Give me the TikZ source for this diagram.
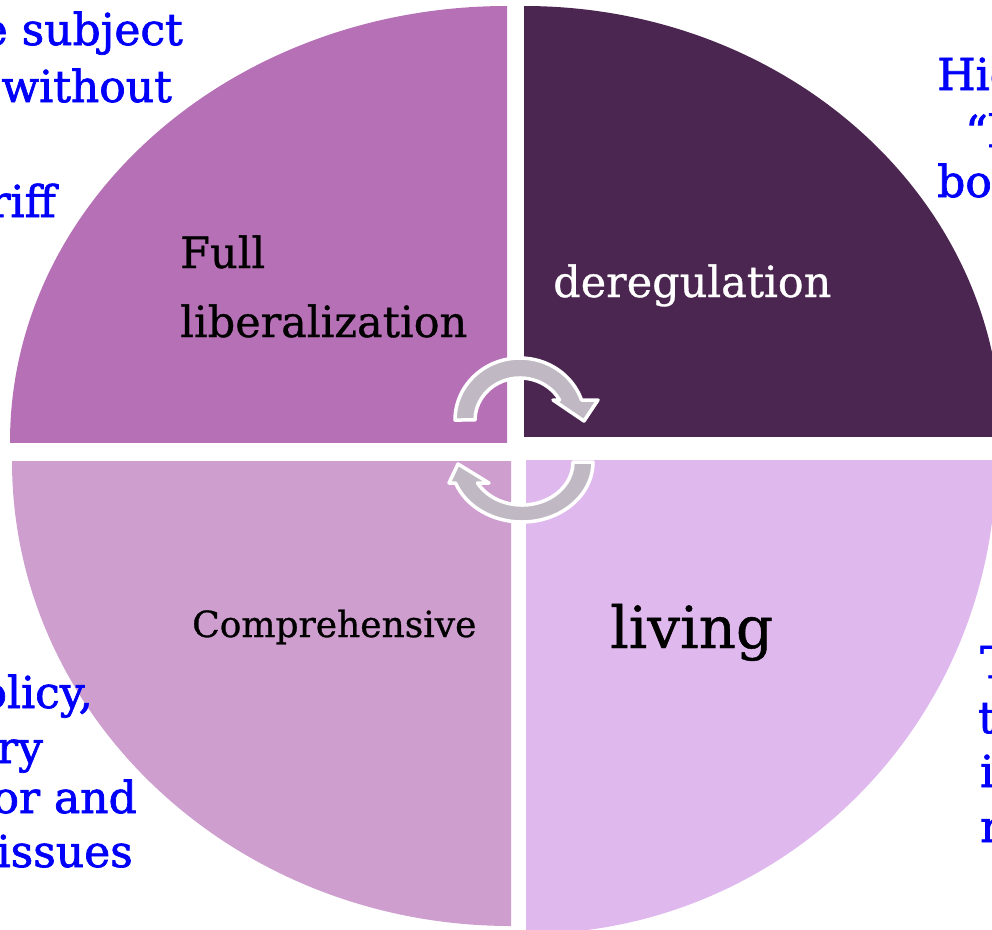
\documentclass[tikz,border=0pt]{standalone}
\usepackage{fontspec}
\setmainfont{DejaVu Serif}[FakeBold=0.8]
\newfontfamily\bluefont{DejaVu Serif}[FakeBold=1.6]
\definecolor{qtl}{RGB}{182,112,182}
\definecolor{qtr}{RGB}{75,38,80}
\definecolor{qbl}{RGB}{206,158,206}
\definecolor{qbr}{RGB}{223,184,238}
\definecolor{agrey}{RGB}{192,185,195}
\definecolor{tblue}{RGB}{0,0,250}
\tikzset{
  bluetxt/.style={text=tblue, inner sep=0pt, font=\bluefont\fontsize{44}{50}\selectfont},
  quadtxt/.style={inner sep=0pt, anchor=base west, font=\fontsize{43}{50}\selectfont},
  cyclearrow/.style={fill=agrey, draw=white, line width=3.5pt, line join=round}
}
\begin{document}
\begin{tikzpicture}[x=1pt,y=-1pt]
\useasboundingbox (0,0) rectangle (992,929);
\clip (0,0) rectangle (992,929);
% quadrants
\begin{scope}\clip (0,0) rectangle (507,442);
  \fill[qtl] (507,442) ellipse[x radius=497,y radius=436];\end{scope}
\begin{scope}\clip (524,0) rectangle (992,436);
  \fill[qtr] (524,436) ellipse[x radius=477,y radius=430];\end{scope}
\begin{scope}\clip (0,461) rectangle (511,929);
  \fill[qbl] (511,461) ellipse[x radius=499,y radius=465];\end{scope}
\begin{scope}\clip (526,460) rectangle (992,929);
  \fill[qbr] (526,460) ellipse[x radius=470,y radius=474];\end{scope}
% cycle arrows
\draw[cyclearrow] (455,420) arc[start angle=180,end angle=341.2,x radius=65,y radius=62]
  -- (598,400) -- (584,421) -- (553,400) -- (559.6,400)
  arc[start angle=331.6,end angle=180,x radius=45,y radius=42] -- cycle;
\draw[cyclearrow] (593,462) arc[start angle=0,end angle=159.5,x radius=71,y radius=60]
  -- (449,483) -- (458,464) -- (489,483) -- (477.5,483)
  arc[start angle=150.8,end angle=0,x radius=51,y radius=43] -- cycle;
% quadrant labels
\node[quadtxt] (full) at (180,268) {Full};
\node[quadtxt] (lib) at (180,337) {liberalization};
\node[quadtxt, text=white] (dereg) at (553,297) {deregulation};
\node[quadtxt, font=\fontsize{36}{42}\selectfont] (comp) at (192,637) {Comprehensive};
\node[quadtxt, font=\fontsize{58}{66}\selectfont] (living) at (610,648) {living};
% blue side texts (cut off by the frame)
\node[bluetxt, anchor=base east] (tl1) at (183,45) {e subject};
\node[bluetxt, anchor=base east] (tl2) at (172,102) {without};
\node[bluetxt, anchor=base east] (tl3) at (56,217) {riff};
\node[bluetxt, anchor=base west] (tr1) at (937,90) {Hig};
\node[bluetxt, anchor=base west] (tr2) at (965,147) {“h};
\node[bluetxt, anchor=base west] (tr3) at (937,197) {bo};
\node[bluetxt, anchor=base east] (bl1) at (93,708) {olicy,};
\node[bluetxt, anchor=base east] (bl2) at (43,763) {ry};
\node[bluetxt, anchor=base east] (bl3) at (137,813) {oor and};
\node[bluetxt, anchor=base east] (bl4) at (133,867) {issues};
\node[bluetxt, anchor=base west] (br1) at (980,678) {T};
\node[bluetxt, anchor=base west] (br2) at (978,733) {t};
\node[bluetxt, anchor=base west] (br3) at (980,787) {i};
\node[bluetxt, anchor=base west] (br4) at (980,842) {r};
\end{tikzpicture}
\end{document}
